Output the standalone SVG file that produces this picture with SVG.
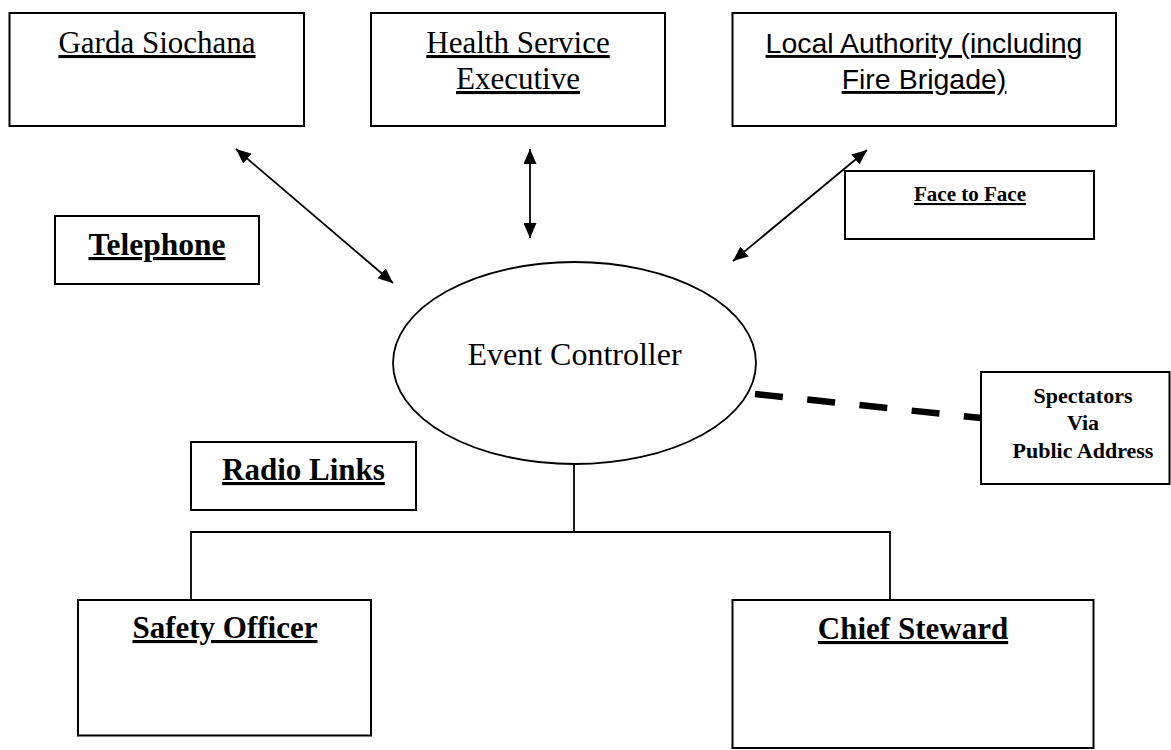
<svg xmlns="http://www.w3.org/2000/svg" width="1171" height="750" viewBox="0 0 1171 750">
<defs>
<marker id="ah" viewBox="0 0 15 13" refX="15" refY="6.5" markerWidth="15" markerHeight="13" markerUnits="userSpaceOnUse" orient="auto-start-reverse">
<path d="M0,0 L15,6.5 L0,13 Z" fill="#000"/>
</marker>
<style>
.box{fill:#fff;stroke:#000;stroke-width:2}
.ser{font-family:"Liberation Serif","Times New Roman",serif;fill:#000;text-anchor:middle}
.reg{font-size:31px}
.bold{font-weight:bold}
.sans{font-family:"Liberation Sans",Arial,sans-serif;font-size:28.5px;fill:#000;text-anchor:middle}
.u{text-decoration:underline}
.arrow{stroke:#000;stroke-width:1.8;fill:none;marker-start:url(#ah);marker-end:url(#ah)}
.link{stroke:#000;stroke-width:1.8;fill:none}
</style>
</defs>
<rect width="1171" height="750" fill="#fff"/>

<g id="connectors">
<line class="arrow" x1="236" y1="149" x2="393" y2="283"/>
<line class="arrow" x1="530" y1="149" x2="530" y2="238"/>
<line class="arrow" x1="867" y1="150" x2="733" y2="261"/>
<line x1="755" y1="394" x2="981" y2="418" stroke="#000" stroke-width="6.5" stroke-dasharray="28 24.5"/>
<polyline class="link" points="574,464 574,532"/>
<polyline class="link" points="191,600 191,532 890,532 890,600"/>
</g>

<g id="garda">
<rect class="box" x="9.5" y="13" width="294.5" height="113"/>
<text class="ser reg u" x="157" y="53">Garda Siochana</text>
</g>

<g id="hse">
<rect class="box" x="371" y="13" width="294" height="113"/>
<text class="ser reg u" x="518" y="53">Health Service</text>
<text class="ser reg u" x="518" y="89">Executive</text>
</g>

<g id="local-authority">
<rect class="box" x="732.5" y="13" width="383.5" height="113"/>
<text class="sans u" x="924" y="53">Local Authority (including</text>
<text class="sans u" x="924" y="89">Fire Brigade)</text>
</g>

<g id="face-to-face">
<rect class="box" x="845" y="171" width="249" height="68"/>
<text class="ser bold u" font-size="21" x="970" y="201">Face to Face</text>
</g>

<g id="telephone">
<rect class="box" x="55" y="216" width="204" height="68"/>
<text class="ser bold u" font-size="31.5" x="157" y="255">Telephone</text>
</g>

<g id="event-controller">
<ellipse cx="574.5" cy="363" rx="181.5" ry="101" fill="#fff" stroke="#000" stroke-width="1.8"/>
<text class="ser" font-size="32" x="574.5" y="365">Event Controller</text>
</g>

<g id="spectators">
<rect class="box" x="981" y="372" width="188.5" height="112"/>
<text class="ser bold" font-size="22" x="1083" y="403">Spectators</text>
<text class="ser bold" font-size="22" x="1083" y="430">Via</text>
<text class="ser bold" font-size="22" x="1083" y="458">Public Address</text>
</g>

<g id="radio-links">
<rect class="box" x="191" y="442" width="225" height="68"/>
<text class="ser bold u" font-size="31" x="303.5" y="480">Radio Links</text>
</g>

<g id="safety-officer">
<rect class="box" x="78" y="600" width="293" height="135.5"/>
<text class="ser bold u" font-size="31" x="225" y="638">Safety Officer</text>
</g>

<g id="chief-steward">
<rect class="box" x="732.5" y="600" width="361" height="148"/>
<text class="ser bold u" font-size="31" x="913" y="639">Chief Steward</text>
</g>
</svg>
